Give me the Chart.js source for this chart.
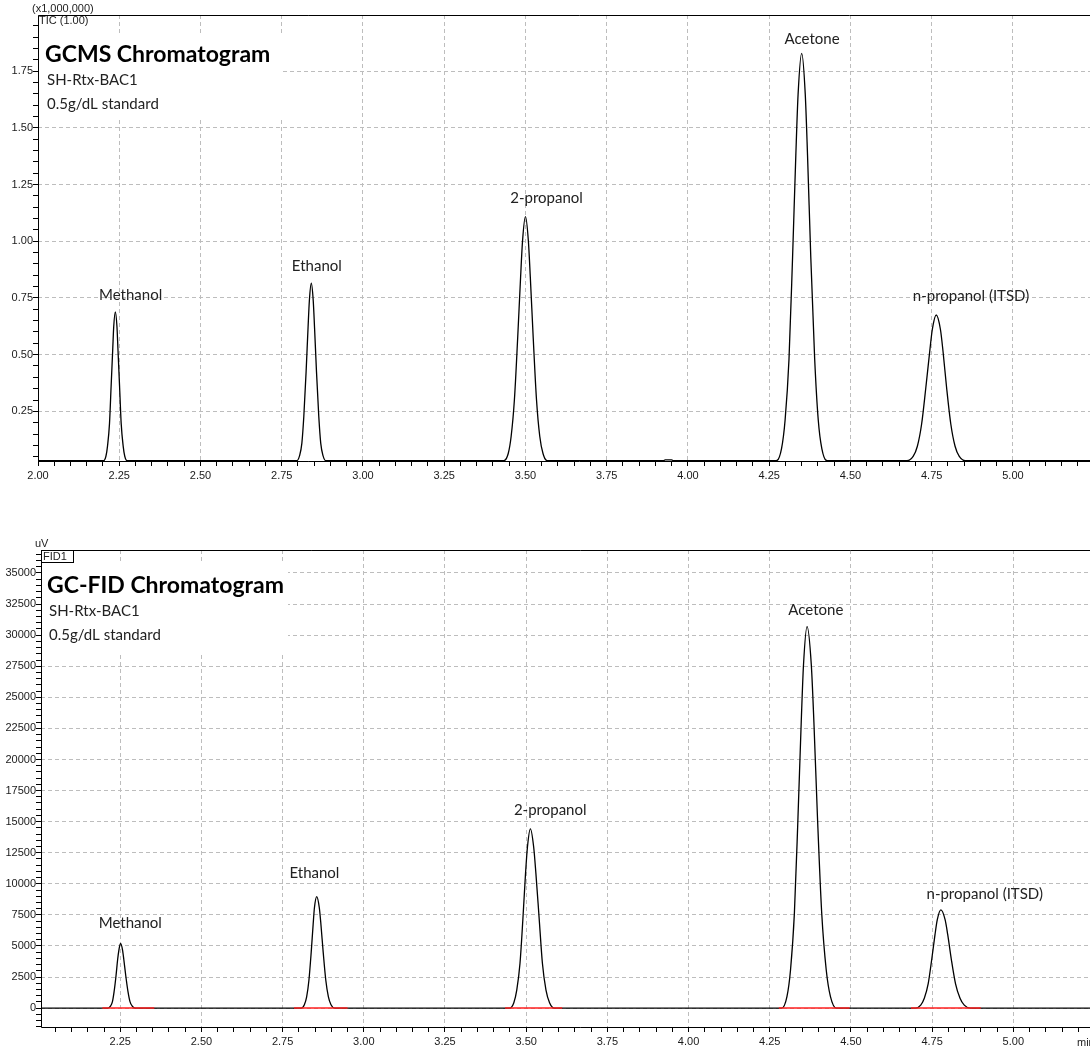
<!DOCTYPE html>
<html>
<head>
<meta charset="utf-8">
<script src="https://cdn.jsdelivr.net/npm/chart.js@4.4.1/dist/chart.umd.min.js"></script>
<style>
  html, body { margin: 0; padding: 0; background: #fff; overflow: hidden; }
  canvas { position: absolute; left: 0; }
  #gcms { top: 0; }
  #fid { top: 500px; }
</style>
</head>
<body>
<canvas id="gcms" width="1120" height="500"></canvas>
<canvas id="fid" width="1120" height="553"></canvas>
<script>
// peak names, same order in both runs
const peakNames = ['Methanol', 'Ethanol', '2-propanol', 'Acetone', 'n-propanol (ITSD)'];

// GCMS TIC trace (x1,000,000), retention time in min
const gcmsTimes = [
    2.000, 2.202,
    2.209, 2.214, 2.220, 2.225, 2.230, 2.233, 2.238, 2.243, 2.246, 2.251, 2.256, 2.262, 2.267, 2.274,
    2.796, 2.805, 2.812, 2.818, 2.825, 2.831, 2.835, 2.841, 2.847, 2.851, 2.857, 2.864, 2.870, 2.877, 2.886,
    3.433, 3.447, 3.456, 3.466, 3.476, 3.485, 3.491, 3.500, 3.509, 3.515, 3.524, 3.534, 3.544, 3.554, 3.567,
    3.925, 3.930, 3.950, 3.955,
    4.272, 4.288, 4.299, 4.311, 4.322, 4.332, 4.339, 4.350, 4.361, 4.368, 4.378, 4.390, 4.401, 4.412, 4.428,
    4.674, 4.693, 4.706, 4.719, 4.732, 4.744, 4.752, 4.764, 4.777, 4.785, 4.796, 4.809, 4.822, 4.835, 4.854,
    5.300
];
const gcmsValues = [
    0.032, 0.032,
    0.052, 0.098, 0.196, 0.361, 0.525, 0.623, 0.689, 0.623, 0.525, 0.361, 0.196, 0.098, 0.052, 0.032,
    0.032, 0.055, 0.110, 0.228, 0.424, 0.619, 0.737, 0.815, 0.737, 0.619, 0.424, 0.228, 0.110, 0.055, 0.032,
    0.032, 0.064, 0.140, 0.301, 0.571, 0.840, 1.001, 1.109, 1.001, 0.840, 0.571, 0.301, 0.140, 0.064, 0.032,
    0.032, 0.036, 0.036, 0.032,
    0.032, 0.086, 0.212, 0.481, 0.931, 1.380, 1.649, 1.829, 1.649, 1.380, 0.931, 0.481, 0.212, 0.086, 0.032,
    0.032, 0.051, 0.096, 0.193, 0.354, 0.514, 0.611, 0.675, 0.611, 0.514, 0.354, 0.193, 0.096, 0.051, 0.032,
    0.032
];

// GC-FID trace (uV)
const fidTimes = [
    2.000,
    2.212, 2.220, 2.226, 2.231, 2.237, 2.242, 2.246, 2.251, 2.257, 2.261, 2.267, 2.274, 2.280, 2.287, 2.296,
    2.807, 2.817, 2.824, 2.831, 2.838, 2.844, 2.848, 2.855, 2.863, 2.868, 2.875, 2.883, 2.891, 2.899, 2.910,
    3.449, 3.462, 3.471, 3.481, 3.490, 3.498, 3.504, 3.513, 3.523, 3.530, 3.540, 3.550, 3.561, 3.572, 3.587,
    4.287, 4.303, 4.314, 4.326, 4.337, 4.347, 4.354, 4.365, 4.378, 4.386, 4.397, 4.410, 4.424, 4.437, 4.455,
    4.699, 4.715, 4.726, 4.738, 4.749, 4.759, 4.766, 4.777, 4.790, 4.798, 4.809, 4.822, 4.836, 4.849, 4.867,
    5.300
];
const fidValues = [
    0,
    0, 156, 521, 1303, 2605, 3908, 4689, 5210, 4689, 3908, 2605, 1303, 521, 156, 0,
    0, 269, 897, 2243, 4485, 6728, 8073, 8970, 8073, 6728, 4485, 2243, 897, 269, 0,
    0, 433, 1442, 3605, 7210, 10815, 12978, 14420, 12978, 10815, 7210, 3605, 1442, 433, 0,
    0, 921, 3069, 7673, 15345, 23018, 27621, 30690, 27621, 23018, 15345, 7673, 3069, 921, 0,
    0, 237, 790, 1975, 3950, 5925, 7110, 7900, 7110, 5925, 3950, 1975, 790, 237, 0,
    0
];

// integration baselines (red) under each FID peak
const fidBaseStart = [2.195, 2.785, 3.435, 4.278, 4.685];
const fidBaseEnd = [2.355, 2.950, 3.611, 4.496, 4.900];

// where the peak names sit (data coords)
const gcmsLabelX = [2.285, 2.858, 3.565, 4.382, 4.871];
const gcmsLabelY = [0.763, 0.891, 1.191, 1.892, 0.759];
const fidLabelX = [2.281, 2.848, 3.574, 4.392, 4.912];
const fidLabelY = [6810, 10817, 15945, 31971, 9135];

const tickFont = { family: 'Liberation Sans, Arial, sans-serif', size: 11 };
const textFamily = 'Lato, "Open Sans", sans-serif';
const lastXLabel = 5.0; // anything past this is off the page

function isMajor(v, step) {
    const r = v / step;
    return Math.abs(r - Math.round(r)) < 1e-6;
}

function makeTicks(from, to, step) {
    const list = [];
    const n0 = Math.ceil(from / step - 1e-9);
    const n1 = Math.floor(to / step + 1e-9);
    for (let i = n0; i <= n1; i++) {
        list.push({ value: Math.round(i * step * 1e6) / 1e6 });
    }
    return list;
}

function toPoints(times, values) {
    return times.map((t, i) => ({ x: t, y: values[i] }));
}

const overlay = {
    id: 'overlay',
    beforeDatasetsDraw(chart) {
        const o = chart.options.plugins.overlay;
        const ctx = chart.ctx;
        const a = chart.chartArea;
        ctx.save();
        ctx.fillStyle = '#fff';
        ctx.fillRect(a.left + 1, o.box[0], o.box[1], o.box[2]);
        ctx.fillStyle = '#000';
        ctx.textBaseline = 'middle';
        ctx.textAlign = 'left';
        ctx.font = 'bold 23px ' + textFamily;
        ctx.fillText(o.title, o.titleX, o.titleY);
        ctx.fillStyle = '#222';
        ctx.font = '15px ' + textFamily;
        ctx.fillText('SH-Rtx-BAC1', o.titleX + 2, o.titleY + 25);
        ctx.fillText('0.5g/dL standard', o.titleX + 2, o.titleY + 49);
        ctx.restore();
    },
    afterDatasetsDraw(chart) {
        const o = chart.options.plugins.overlay;
        const ctx = chart.ctx;
        const xs = chart.scales.x, ys = chart.scales.y;
        ctx.save();
        ctx.fillStyle = '#222';
        ctx.font = '15px ' + textFamily;
        ctx.textAlign = 'center';
        ctx.textBaseline = 'middle';
        peakNames.forEach((name, i) => {
            ctx.fillText(name, xs.getPixelForValue(o.labelX[i]), ys.getPixelForValue(o.labelY[i]));
        });
        ctx.restore();
    },
    afterDraw(chart) {
        const o = chart.options.plugins.overlay;
        const ctx = chart.ctx;
        const a = chart.chartArea;
        ctx.save();
        // frame: left, top, bottom (right side runs off the page)
        ctx.strokeStyle = '#000';
        ctx.lineWidth = 1;
        ctx.beginPath();
        ctx.moveTo(chart.width, a.top + 0.5);
        ctx.lineTo(a.left + 0.5, a.top + 0.5);
        ctx.lineTo(a.left + 0.5, a.bottom + 0.5);
        ctx.lineTo(chart.width, a.bottom + 0.5);
        ctx.stroke();
        ctx.fillStyle = '#222';
        ctx.font = '11px ' + tickFont.family;
        ctx.textBaseline = 'middle';
        ctx.textAlign = 'left';
        ctx.fillText(o.unit, o.unitX, a.top - 6);
        if (o.trace === 'FID1') {
            ctx.fillText('FID1', a.left + 2, a.top + 7);
            ctx.strokeRect(a.left + 0.5, a.top + 0.5, 32, 12);
        } else {
            ctx.fillText(o.trace, a.left + 1, a.top + 6);
        }
        if (o.xUnit) {
            ctx.font = tickFont.size + 'px ' + tickFont.family;
            ctx.fillText(o.xUnit, 1077, a.bottom + 16);
        }
        ctx.restore();
    }
};

function makeChart(id, cfg) {
    const datasets = [{
        data: toPoints(cfg.times, cfg.values),
        borderColor: '#000',
        borderWidth: 1.3,
        pointRadius: 0,
        cubicInterpolationMode: 'monotone',
        order: 2
    }];
    if (cfg.baseStart) {
        const pts = [];
        cfg.baseStart.forEach((s, i) => {
            pts.push({ x: s, y: 0 }, { x: cfg.baseEnd[i], y: 0 }, { x: cfg.baseEnd[i] + 0.001, y: null });
        });
        datasets.push({
            data: pts,
            borderColor: '#ff2020',
            borderWidth: 1.5,
            pointRadius: 0,
            spanGaps: false,
            order: 1
        });
    }

    new Chart(document.getElementById(id), {
        type: 'line',
        data: { datasets },
        plugins: [overlay],
        options: {
            responsive: false,
            animation: false,
            layout: { padding: { top: cfg.padTop, right: 20, left: 0, bottom: 0 } },
            plugins: {
                legend: { display: false },
                tooltip: { enabled: false },
                overlay: cfg.overlay
            },
            scales: {
                x: {
                    type: 'linear',
                    min: cfg.xMin,
                    max: cfg.xMax,
                    afterFit(scale) { scale.height = cfg.xAxisHeight; },
                    afterBuildTicks(scale) { scale.ticks = makeTicks(cfg.xMin, cfg.xMax, 0.05); },
                    ticks: {
                        autoSkip: false,
                        maxRotation: 0,
                        color: '#1a1a1a',
                        font: tickFont,
                        padding: 3,
                        callback: v => (isMajor(v, 0.25) && v <= lastXLabel + 1e-6) ? v.toFixed(2) : ''
                    },
                    grid: {
                        color: c => (c.tick && isMajor(c.tick.value, 0.25)) ? '#bdbdbd' : 'rgba(0,0,0,0)',
                        tickColor: '#000',
                        tickLength: 5,
                        lineWidth: 1
                    },
                    border: { display: false, dash: [4, 3] }
                },
                y: {
                    min: cfg.yMin,
                    max: cfg.yMax,
                    afterFit(scale) { scale.width = cfg.yAxisWidth; },
                    afterBuildTicks(scale) { scale.ticks = makeTicks(cfg.yMin, cfg.yMax, cfg.yMinor); },
                    ticks: {
                        autoSkip: false,
                        color: '#1a1a1a',
                        font: tickFont,
                        padding: 0,
                        callback: v => isMajor(v, cfg.yMajor) ? cfg.yFormat(v) : ''
                    },
                    grid: {
                        color: c => (c.tick && isMajor(c.tick.value, cfg.yMajor) && c.tick.value > cfg.yMin) ? '#bdbdbd' : 'rgba(0,0,0,0)',
                        tickColor: '#000',
                        tickLength: 5,
                        lineWidth: 1
                    },
                    border: { display: false, dash: [4, 3] }
                }
            }
        }
    });
}

makeChart('gcms', {
    times: gcmsTimes,
    values: gcmsValues,
    xMin: 2.0,
    xMax: 5.268,
    yMin: 0.031,
    yMax: 1.998,
    yMinor: 0.05,
    yMajor: 0.25,
    yFormat: v => v.toFixed(2),
    padTop: 15,
    xAxisHeight: 39,
    yAxisWidth: 38,
    overlay: {
        title: 'GCMS Chromatogram',
        titleX: 45, titleY: 55,
        box: [33, 244, 85],
        unit: '(x1,000,000)', unitX: 32,
        trace: 'TIC (1.00)',
        labelX: gcmsLabelX, labelY: gcmsLabelY
    }
});

makeChart('fid', {
    times: fidTimes,
    values: fidValues,
    baseStart: fidBaseStart,
    baseEnd: fidBaseEnd,
    xMin: 2.006,
    xMax: 5.267,
    yMin: -1520,
    yMax: 36850,
    yMinor: 500,
    yMajor: 2500,
    yFormat: v => String(v),
    padTop: 50,
    xAxisHeight: 26,
    yAxisWidth: 41,
    overlay: {
        title: 'GC-FID Chromatogram',
        titleX: 47, titleY: 86,
        box: [63, 246, 89],
        unit: 'uV', unitX: 35,
        trace: 'FID1',
        xUnit: 'min',
        labelX: fidLabelX, labelY: fidLabelY
    }
});
</script>
</body>
</html>
